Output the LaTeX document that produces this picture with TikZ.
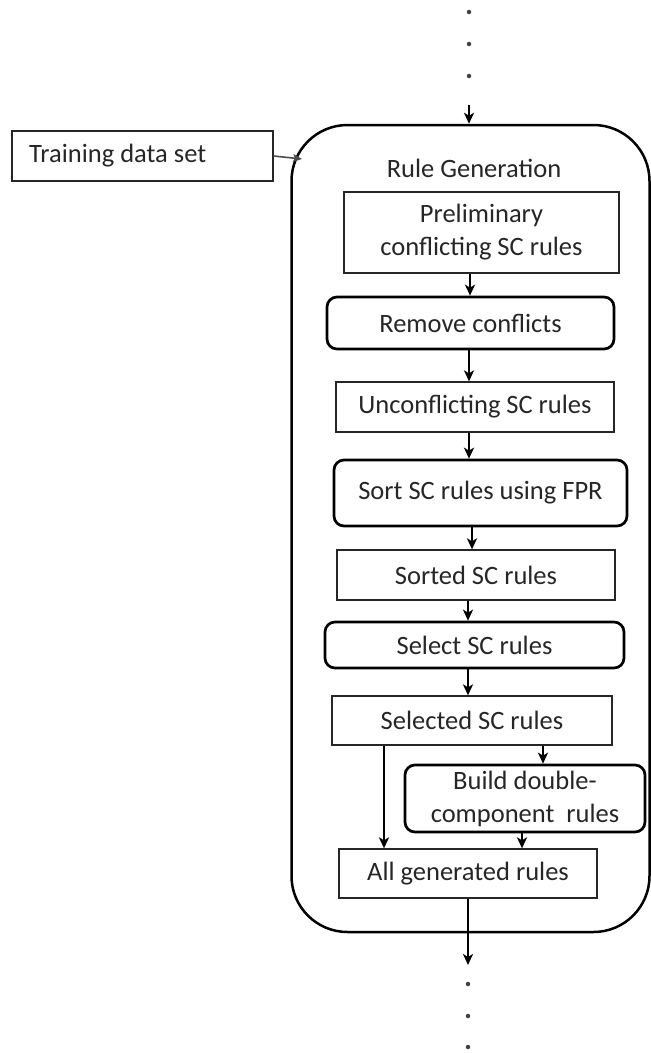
\documentclass[tikz,border=0pt]{standalone}
\usepackage{fontspec}
\setmainfont{Carlito}
\usetikzlibrary{arrows.meta}
\begin{document}
\begin{tikzpicture}[x=1pt,y=-1pt,
  every node/.style={font=\fontsize{26.5}{33}\selectfont, text=black!85, inner sep=0pt, align=center},
  plainbox/.style={draw=black!85, line width=1.3pt, rectangle},
  procbox/.style={draw=black, line width=2.7pt, rectangle, rounded corners=10pt},
  bigbox/.style={draw=black, line width=2.5pt, rectangle, rounded corners=56pt},
  arr/.style={draw=black, line width=2.2pt, -{Stealth[length=11pt,width=10pt,inset=3pt]}},
  thinarr/.style={draw=black!70, line width=1.6pt, -{Stealth[length=9pt,width=8pt,inset=2pt]}},
  dot/.style={fill=black!75, circle, minimum size=4.5pt}
]
\useasboundingbox (0,0) rectangle (651,1053);

% big container
\node[bigbox, minimum width=358pt, minimum height=807pt] (big) at (470.5,528.5) {};
\node (title) at (474,168) {Rule Generation};

% training data
\node[plainbox, minimum width=261pt, minimum height=50pt] (train) at (142.5,156) {};
\node[anchor=west] (traintxt) at (29,156) {Training data set};
\coordinate (trainin) at (302,159);

% inner nodes
\node[plainbox, minimum width=275pt, minimum height=81pt] (prelim) at (481.5,232.5) {Preliminary\\conflicting SC rules};
\node[procbox, minimum width=287pt, minimum height=52pt] (remove) at (470.5,323) {Remove conflicts};
\node[plainbox, minimum width=278pt, minimum height=50pt] (uncon) at (475,407) {Unconflicting SC rules};
\node[procbox, minimum width=293pt, minimum height=66pt] (sort) at (480.5,493) {Sort SC rules using FPR};
\node[plainbox, minimum width=278pt, minimum height=50pt] (sorted) at (476,575) {Sorted SC rules};
\node[procbox, minimum width=299pt, minimum height=46pt] (select) at (474.5,645) {Select SC rules};
\node[plainbox, minimum width=280pt, minimum height=49pt] (selected) at (472,720.5) {Selected SC rules};
\node[procbox, minimum width=240pt, minimum height=67pt] (build) at (525,798.5) {Build double-\\component\ \ rules};
\node[plainbox, minimum width=258pt, minimum height=49pt] (allgen) at (468,873.5) {All generated rules};

% arrow columns
\coordinate (c1) at (470,0);
\coordinate (c2) at (469,0);
\coordinate (c3) at (469,0);
\coordinate (c4) at (472,0);
\coordinate (c5) at (468,0);
\coordinate (c6) at (468,0);
\coordinate (cl) at (384,0);
\coordinate (cr) at (543,0);
\coordinate (cb) at (522,0);

% top dots and arrow
\node[dot] (d1) at (469,12) {};
\node[dot] (d2) at (469,44) {};
\node[dot] (d3) at (469,76) {};
\coordinate (topstart) at (469,105);
\draw[arr] (topstart) -- (topstart |- big.north);

% training arrow
\draw[thinarr] (train.east) -- (trainin);

% inner arrows
\draw[arr] (c1 |- prelim.south) -- (c1 |- remove.north);
\draw[arr] (c2 |- remove.south) -- (c2 |- uncon.north);
\draw[arr] (c3 |- uncon.south) -- (c3 |- sort.north);
\draw[arr] (c4 |- sort.south) -- (c4 |- sorted.north);
\draw[arr] (c5 |- sorted.south) -- (c5 |- select.north);
\draw[arr] (c6 |- select.south) -- (c6 |- selected.north);
\draw[arr] (cl |- selected.south) -- (cl |- allgen.north);
\draw[arr] (cr |- selected.south) -- (cr |- build.north);
\draw[arr] (cb |- build.south) -- (cb |- allgen.north);

% bottom arrow and dots
\coordinate (botend) at (468,965);
\draw[arr] (allgen.south) -- (botend);
\node[dot] (d4) at (468,984) {};
\node[dot] (d5) at (468,1016) {};
\node[dot] (d6) at (468,1047) {};
\end{tikzpicture}
\end{document}
